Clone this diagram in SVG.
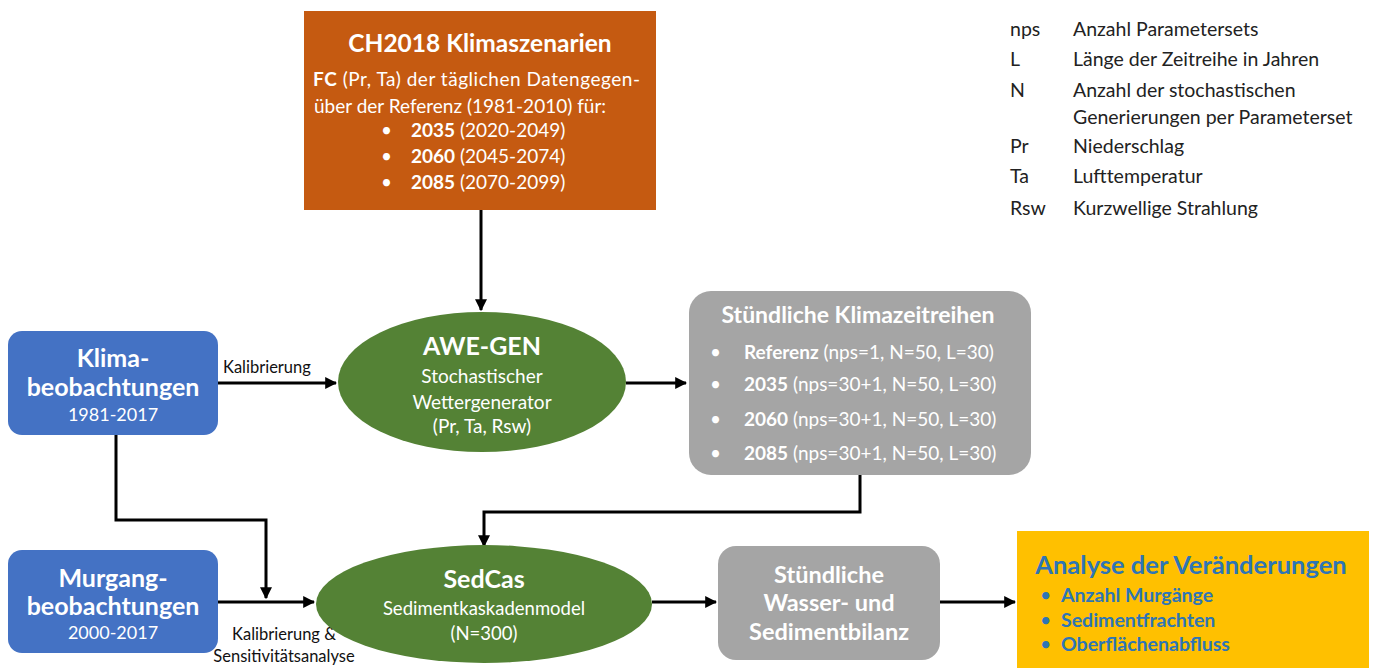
<svg xmlns="http://www.w3.org/2000/svg" width="1376" height="668" viewBox="0 0 1376 668">
<defs>
<marker id="ah" viewBox="0 0 10 10" refX="9" refY="5" markerWidth="4" markerHeight="4" orient="auto" markerUnits="strokeWidth">
<path d="M0,0 L10,5 L0,10 z" fill="#000"/>
</marker>
<style>
text{font-family:Lato,"Open Sans","Liberation Sans",sans-serif}
.w{fill:#fff}
.b{font-weight:bold}
.c{text-anchor:middle}
.lg{font-size:19.5px;fill:#222}
.lbl{font-size:16.5px;fill:#111}
.con{fill:none;stroke:#000;stroke-width:3}
.blue{fill:#4472C4}
.green{fill:#548235}
.gray{fill:#A5A5A5}
</style>
</defs>
<rect width="1376" height="668" fill="#fff"/>

<g id="connectors">
<path class="con" d="M481,210 V310" marker-end="url(#ah)"/>
<path class="con" d="M218,383 H336" marker-end="url(#ah)"/>
<path class="con" d="M626,383 H686" marker-end="url(#ah)"/>
<path class="con" d="M860,475 V512 H484 V546" marker-end="url(#ah)"/>
<path class="con" d="M116,435 V520 H266 V598" marker-end="url(#ah)"/>
<path class="con" d="M218,602 H314" marker-end="url(#ah)"/>
<path class="con" d="M652,602 H716" marker-end="url(#ah)"/>
<path class="con" d="M940,602 H1015" marker-end="url(#ah)"/>
<text class="lbl" x="223" y="373">Kalibrierung</text>
<text class="lbl c" x="284" y="640">Kalibrierung &amp;</text>
<text class="lbl c" x="284" y="662">Sensitivitätsanalyse</text>
</g>

<g id="ch2018">
<rect x="304" y="11" width="352" height="199" fill="#C55A11"/>
<text class="w b c" x="480" y="52" font-size="24.5">CH2018 Klimaszenarien</text>
<text class="w" x="313" y="86" font-size="19" textLength="327"><tspan class="b">FC</tspan> (Pr, Ta) der täglichen Datengegen-</text>
<text class="w" x="314" y="113" font-size="19">über der Referenz (1981-2010) für:</text>
<g font-size="19" class="w">
<text class="w" x="381" y="137">•</text><text class="w" x="411" y="137"><tspan class="b">2035</tspan> (2020-2049)</text>
<text class="w" x="381" y="163">•</text><text class="w" x="411" y="163"><tspan class="b">2060</tspan> (2045-2074)</text>
<text class="w" x="381" y="189">•</text><text class="w" x="411" y="189"><tspan class="b">2085</tspan> (2070-2099)</text>
</g>
</g>

<g id="legend">
<text class="lg" x="1010" y="36">nps</text><text class="lg" x="1073" y="36">Anzahl Parametersets</text>
<text class="lg" x="1010" y="66">L</text><text class="lg" x="1073" y="66">Länge der Zeitreihe in Jahren</text>
<text class="lg" x="1010" y="97">N</text><text class="lg" x="1073" y="97">Anzahl der stochastischen</text>
<text class="lg" x="1073" y="124">Generierungen per Parameterset</text>
<text class="lg" x="1010" y="153">Pr</text><text class="lg" x="1073" y="153">Niederschlag</text>
<text class="lg" x="1010" y="183">Ta</text><text class="lg" x="1073" y="183">Lufttemperatur</text>
<text class="lg" x="1010" y="215">Rsw</text><text class="lg" x="1073" y="215">Kurzwellige Strahlung</text>
</g>

<g id="klima">
<rect class="blue" x="8" y="331" width="210" height="104" rx="14"/>
<text class="w b c" x="113" y="367" font-size="25">Klima-</text>
<text class="w b c" x="113" y="396" font-size="25">beobachtungen</text>
<text class="w c" x="113" y="421" font-size="18">1981-2017</text>
</g>

<g id="awegen">
<ellipse class="green" cx="482" cy="382" rx="144" ry="70"/>
<text class="w b c" x="482" y="355" font-size="25">AWE-GEN</text>
<text class="w c" x="482" y="383" font-size="19">Stochastischer</text>
<text class="w c" x="482" y="409" font-size="19">Wettergenerator</text>
<text class="w c" x="482" y="433" font-size="19">(Pr, Ta, Rsw)</text>
</g>

<g id="klimazeitreihen">
<rect class="gray" x="689" y="291" width="342" height="184" rx="22"/>
<text class="w b c" x="858" y="323" font-size="23">Stündliche Klimazeitreihen</text>
<g font-size="19">
<text class="w" x="710" y="359">•</text><text class="w" x="744" y="359"><tspan class="b">Referenz</tspan> (nps=1, N=50, L=30)</text>
<text class="w" x="710" y="391">•</text><text class="w" x="744" y="391"><tspan class="b">2035</tspan> (nps=30+1, N=50, L=30)</text>
<text class="w" x="710" y="426">•</text><text class="w" x="744" y="426"><tspan class="b">2060</tspan> (nps=30+1, N=50, L=30)</text>
<text class="w" x="710" y="460">•</text><text class="w" x="744" y="460"><tspan class="b">2085</tspan> (nps=30+1, N=50, L=30)</text>
</g>
</g>

<g id="murgang">
<rect class="blue" x="8" y="550" width="210" height="103" rx="14"/>
<text class="w b c" x="113" y="587" font-size="25">Murgang-</text>
<text class="w b c" x="113" y="615" font-size="25">beobachtungen</text>
<text class="w c" x="113" y="639" font-size="18">2000-2017</text>
</g>

<g id="sedcas">
<ellipse class="green" cx="484" cy="604" rx="168" ry="59"/>
<text class="w b c" x="484" y="588" font-size="25">SedCas</text>
<text class="w c" x="484" y="615" font-size="18.5">Sedimentkaskadenmodel</text>
<text class="w c" x="484" y="640" font-size="18.5">(N=300)</text>
</g>

<g id="bilanz">
<rect class="gray" x="718" y="546" width="222" height="114" rx="18"/>
<text class="w b c" x="829" y="583" font-size="23.5">Stündliche</text>
<text class="w b c" x="829" y="611" font-size="23.5">Wasser- und</text>
<text class="w b c" x="829" y="640" font-size="23.5">Sedimentbilanz</text>
</g>

<g id="analyse">
<rect x="1017" y="531" width="352" height="137" fill="#FFC000"/>
<text class="b c" x="1191" y="574" font-size="25.5" fill="#2E75B6">Analyse der Veränderungen</text>
<g font-size="19.5" fill="#2E75B6">
<text x="1040" y="602">•</text><text class="b" x="1061" y="602">Anzahl Murgänge</text>
<text x="1040" y="627">•</text><text class="b" x="1061" y="627">Sedimentfrachten</text>
<text x="1040" y="651">•</text><text class="b" x="1061" y="651">Oberflächenabfluss</text>
</g>
</g>
</svg>
